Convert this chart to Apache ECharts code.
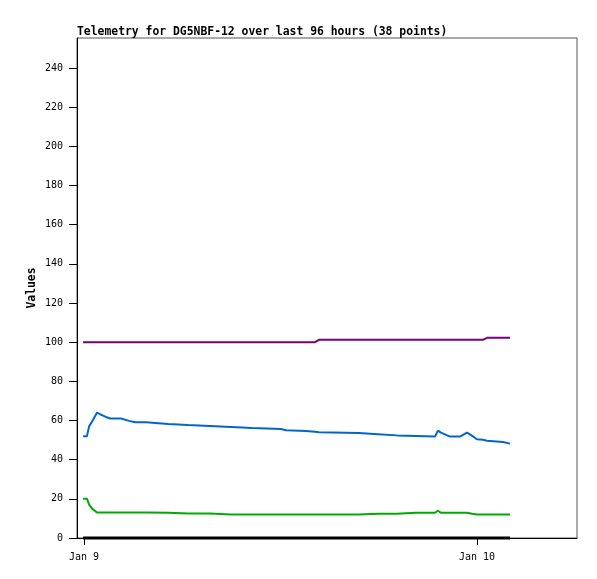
<!DOCTYPE html>
<html>
<head>
<meta charset="utf-8">
<script src="https://cdn.jsdelivr.net/npm/echarts@6/dist/echarts.min.js"></script>
<style>html,body{margin:0;padding:0;background:#fff}#c{width:597px;height:579px}</style>
</head>
<body>
<div id="c"></div>
<script>
// hours since Jan 9 00:00
var hours = [-0.06,0.18,0.31,0.49,0.79,0.98,1.16,1.34,1.59,2.26,2.75,3.11,3.79,3.91,5.13,6.35,7.69,8.98,10.26,12.03,12.34,13.56,14.11,14.35,16.79,17.95,19.11,20.27,21.44,21.62,21.80,22.35,22.96,23.39,23.69,24.00,24.37,24.61,25.59,26.02];
var blueVals = [52,52,57,59.5,64,63.2,62.5,61.8,61,61,59.8,59.1,59.1,58.4,58.2,57.7,57.2,56.7,56.2,55.7,55,54.6,54.2,54,53.6,53,52.4,52.1,51.8,54.8,53.8,51.8,51.8,53.8,52.3,50.4,50.2,49.7,49,48.2];
var greenVals = [20,20,17,15,13,13,13,13,13,13,13,13,13,13,12.9,12.5,12.5,12,12,12,12,12,12,12,12,12.4,12.4,12.9,12.9,13.9,12.9,12.9,12.9,12.9,12.4,12,12,12,12,12];
var purpleVals = [100,100,100,100,100,100,100,100,100,100,100,100,100,100,100,100,100,100,100,100,100,100,100,101.2,101.2,101.2,101.2,101.2,101.2,101.2,101.2,101.2,101.2,101.2,101.2,101.2,101.2,102.2,102.2,102.2];
var zeroVals = [0,0,0,0,0,0,0,0,0,0,0,0,0,0,0,0,0,0,0,0,0,0,0,0,0,0,0,0,0,0,0,0,0,0,0,0,0,0,0,0];
var yTicks = [0,20,40,60,80,100,120,140,160,180,200,220,240];
var xTicks = [0,24];
var xTickLabels = ['Jan 9','Jan 10'];

function pairs(v){ return hours.map(function(t,i){ return [t, v[i]]; }); }
var mono = 'DejaVu Sans Mono';
var chart = echarts.init(document.getElementById('c'), null, {renderer:'canvas'});
function line(name, vals, color, w){
  return {name:name, type:'line', data:pairs(vals), showSymbol:false, symbol:'none',
    lineStyle:{color:color, width:w}, itemStyle:{color:color}, clip:false, animation:false, z: 3};
}
chart.setOption({
  animation:false,
  title:{text:'Telemetry for DG5NBF-12 over last 96 hours (38 points)', left:72, top:22,
    textStyle:{fontFamily:mono, fontSize:11.4, fontWeight:'bold', color:'#000'}},
  grid:{left:77, top:38, right:20, bottom:41, show:true, borderColor:'#555', borderWidth:1, backgroundColor:'#fff'},
  xAxis:{type:'value', min:-0.43, max:30.11,
    axisLine:{show:true, onZero:false, lineStyle:{color:'#000', width:1}},
    axisTick:{show:true, length:7, customValues:xTicks, lineStyle:{color:'#000'}},
    axisLabel:{customValues:xTicks, margin:14, fontFamily:mono, fontSize:10, color:'#000',
      formatter:function(v){ var i=xTicks.indexOf(v); return i>=0?xTickLabels[i]:''; }},
    splitLine:{show:false}},
  yAxis:{type:'value', min:0, max:255.3, name:'Values', nameLocation:'middle', nameGap:39, nameRotate:90,
    nameMoveOverlap:false,
    nameTextStyle:{fontFamily:mono, fontSize:11.4, fontWeight:'bold', color:'#000'},
    axisLine:{show:true, onZero:false, lineStyle:{color:'#000', width:1}},
    axisTick:{show:true, length:8, customValues:yTicks, lineStyle:{color:'#000'}},
    axisLabel:{customValues:yTicks, margin:14, fontFamily:mono, fontSize:10, color:'#000'},
    splitLine:{show:false}},
  series:[
    line('purple', purpleVals, '#780078', 2),
    line('blue', blueVals, '#0066cc', 2),
    line('green', greenVals, '#00aa00', 2),
    line('zero', zeroVals, '#000000', 3)
  ]
});
</script>
</body>
</html>
